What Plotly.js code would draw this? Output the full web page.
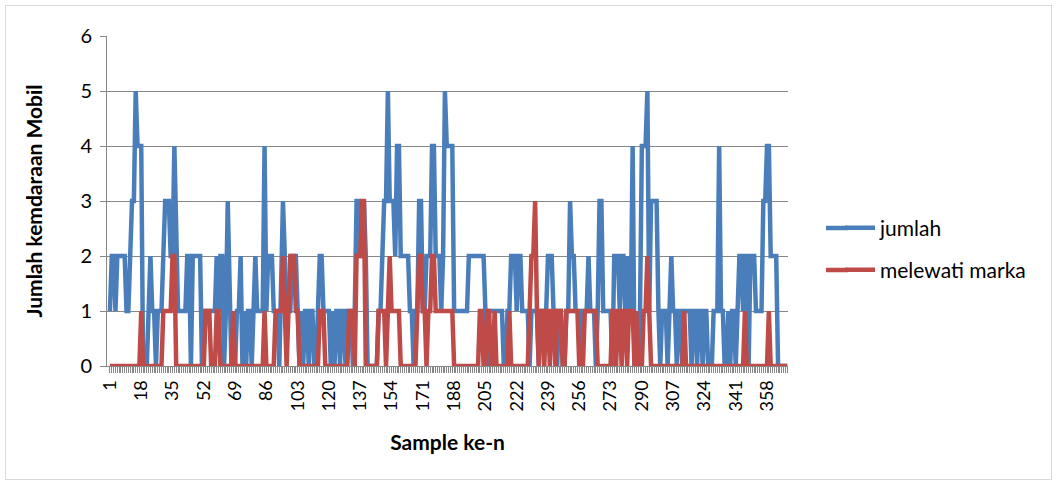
<!DOCTYPE html>
<html>
<head>
<meta charset="utf-8">
<script src="https://cdn.plot.ly/plotly-3.0.1.min.js"></script>
<style>
  html, body { margin: 0; padding: 0; background: #ffffff; }
  #wrap { position: relative; width: 1058px; height: 485px; }
  #chart { position: absolute; left: 0; top: 0; width: 1058px; height: 485px; }
  #frame { position: absolute; left: 5px; top: 5px; width: 1045px; height: 473px; border: 1px solid #d9d9d9; pointer-events: none; }
</style>
</head>
<body>
<div id="wrap"><div id="chart"></div><div id="frame"></div></div>
<script>
// Series: jumlah (blue)
const jumlah = [
  1,2,2,1,2,2,2,2,2,1,
  1,2,3,3,5,4,4,4,0,0,
  0,1,2,1,1,0,1,1,1,2,
  3,3,3,2,2,4,2,1,1,1,
  1,1,2,2,0,2,2,2,2,2,
  0,1,1,1,1,1,1,1,2,1,
  2,2,0,1,3,1,0,1,0,1,
  1,2,0,1,0,1,1,0,1,2,
  1,1,1,1,4,1,2,2,2,1,
  1,1,0,2,3,2,1,1,1,2,
  2,2,1,0,1,0,1,1,0,1,
  1,0,0,1,2,2,1,1,1,1,
  0,1,0,1,1,0,1,1,0,1,
  1,1,0,1,3,3,2,2,3,2,
  0,0,0,0,0,0,1,1,2,3,
  3,5,3,3,3,2,4,4,2,2,
  2,2,2,1,1,0,1,1,3,3,
  1,1,2,2,2,4,4,2,2,2,
  1,2,5,4,4,4,4,1,1,1,
  1,1,1,1,1,2,2,2,2,2,
  2,2,2,2,1,0,1,1,1,1,
  1,1,1,1,0,0,1,1,2,2,
  2,1,2,2,1,1,1,1,0,1,
  1,1,1,0,1,1,1,1,2,2,
  2,1,1,0,1,1,0,0,1,1,
  3,2,2,1,1,1,0,1,1,1,
  2,1,1,1,0,1,3,3,1,1,
  1,1,1,0,2,2,2,1,2,2,
  1,2,1,1,4,0,1,0,1,4,
  4,4,5,1,3,3,3,3,1,0,
  1,1,1,0,1,2,1,1,0,1,
  1,0,1,1,1,1,0,1,1,0,
  1,1,0,1,1,0,0,0,1,1,
  1,4,1,1,0,0,1,0,1,1,
  0,1,2,2,1,2,2,0,2,2,
  2,1,1,1,1,3,3,4,4,2,
  2,2,2,0,0,0,0,0,0
];
// Series: melewati marka (red)
const melewatiMarka = [
  0,0,0,0,0,0,0,0,0,0,
  0,0,0,0,0,0,0,1,0,0,
  0,0,0,0,0,0,0,0,0,1,
  1,1,1,1,2,2,0,0,0,0,
  0,0,0,0,0,0,0,0,0,0,
  0,0,1,1,1,0,0,0,1,1,
  0,0,0,0,0,0,0,1,0,0,
  0,0,0,0,0,0,0,0,0,0,
  0,0,0,0,1,0,0,0,0,0,
  1,1,1,1,2,1,0,1,2,2,
  2,1,1,0,0,0,0,0,0,0,
  0,0,0,0,1,1,1,0,0,0,
  0,0,0,0,0,0,0,0,0,0,
  1,1,1,0,2,2,2,3,3,0,
  0,0,0,0,0,0,1,1,1,1,
  0,1,2,1,1,1,1,1,0,0,
  0,0,0,0,0,0,0,1,2,2,
  1,1,0,1,1,2,2,1,1,1,
  1,1,1,1,1,1,1,0,0,0,
  0,0,0,0,0,0,0,0,0,0,
  0,1,1,0,0,1,1,0,0,1,
  0,0,0,0,0,0,0,1,0,0,
  0,0,0,0,0,0,0,0,1,2,
  2,3,1,0,1,1,0,1,1,0,
  1,1,0,1,1,1,0,0,1,1,
  1,1,1,1,1,0,0,0,1,1,
  1,1,1,1,1,0,0,0,0,0,
  0,0,0,1,1,0,1,1,0,1,
  1,0,1,1,1,0,1,0,0,0,
  1,1,2,1,0,0,0,0,0,0,
  0,0,0,0,0,0,0,0,0,0,
  0,0,1,0,0,0,0,0,0,0,
  0,0,0,0,0,0,0,0,0,0,
  0,0,0,0,0,0,0,0,0,0,
  0,0,0,0,0,1,0,0,0,0,
  0,0,0,0,0,0,0,0,1,0,
  0,0,0,0,0,0,0,0,0
];
// Category axis: sample numbers and the labelled ones
const sampleNo = jumlah.map((_, k) => k + 1);
const tickLabels = ['1','18','35','52','69','86','103','120','137','154','171','188','205','222','239','256','273','290','307','324','341','358'];
const seriesNames = ['jumlah', 'melewati marka'];
const seriesColors = ['#4A7EBB', '#BE4B48'];

const FONT = 'Lato, "Open Sans", sans-serif';
const GRID = '#878787';

const traces = [
  { x: sampleNo, y: jumlah, name: seriesNames[0], type: 'scatter', mode: 'lines',
    line: { color: seriesColors[0], width: 4.5 }, legend: 'legend' },
  { x: sampleNo, y: melewatiMarka, name: seriesNames[1], type: 'scatter', mode: 'lines',
    line: { color: seriesColors[1], width: 4.5 }, legend: 'legend2' }
];

// legend placement (paper units relative to plot area 107..788 / 36..366)
const legX = (840 - 107) / 681;
const legY1 = (366 - 228) / 330;
const legY2 = (366 - 270) / 330;
const extX0 = (826 - 107) / 681;
const extX1 = (848 - 107) / 681;

const layout = {
  width: 1058, height: 485,
  margin: { l: 107, r: 270, t: 36, b: 119, pad: 0 },
  paper_bgcolor: '#ffffff', plot_bgcolor: '#ffffff',
  font: { family: FONT, color: '#000000', size: 18 },
  showlegend: true,
  xaxis: {
    range: [-0.6, 369.4],
    tickmode: 'array',
    tickvals: sampleNo,
    ticktext: sampleNo.map(n => tickLabels.includes(String(n)) ? String(n) : ''),
    tickangle: -90,
    ticks: 'outside', ticklen: 6, tickwidth: 1, tickcolor: GRID,
    showline: true, linecolor: GRID, linewidth: 1,
    showgrid: false, zeroline: false,
    tickfont: { family: FONT, size: 18, color: '#000' },
    title: { text: 'Sample ke-n', font: { family: FONT, size: 21, weight: 700, color: '#000' }, standoff: 24 }
  },
  yaxis: {
    range: [0, 6], dtick: 1, tick0: 0,
    ticks: 'outside', ticklen: 6, tickwidth: 1, tickcolor: GRID,
    ticklabelstandoff: 4,
    showline: true, linecolor: GRID, linewidth: 1,
    showgrid: true, gridcolor: GRID, gridwidth: 1,
    zeroline: false,
    tickfont: { family: FONT, size: 20, color: '#000' },
    title: { text: 'Jumlah kemdaraan Mobil', font: { family: FONT, size: 21, weight: 700, color: '#000' }, standoff: 32 }
  },
  legend: { x: legX, xanchor: 'left', y: legY1, yanchor: 'middle',
            font: { family: FONT, size: 21, color: '#000' }, bgcolor: 'rgba(0,0,0,0)' },
  legend2: { x: legX, xanchor: 'left', y: legY2, yanchor: 'middle',
             font: { family: FONT, size: 21, color: '#000' }, bgcolor: 'rgba(0,0,0,0)' },
  shapes: [
    { type: 'line', xref: 'paper', yref: 'paper', x0: extX0, x1: extX1, y0: legY1, y1: legY1,
      line: { color: seriesColors[0], width: 4.5 } },
    { type: 'line', xref: 'paper', yref: 'paper', x0: extX0, x1: extX1, y0: legY2, y1: legY2,
      line: { color: seriesColors[1], width: 4.5 } }
  ]
};

Plotly.newPlot('chart', traces, layout, { displayModeBar: false, staticPlot: true });
</script>
</body>
</html>
